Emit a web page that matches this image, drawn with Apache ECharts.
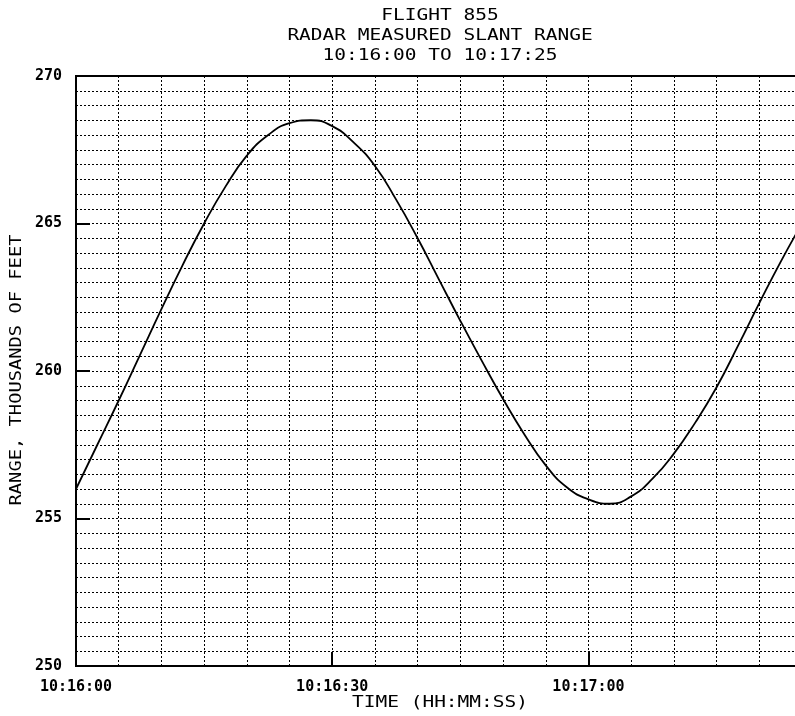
<!DOCTYPE html>
<html>
<head>
<meta charset="utf-8">
<script src="https://cdn.jsdelivr.net/npm/echarts@6/dist/echarts.min.js"></script>
<style>
html,body{margin:0;padding:0;background:#fff;}
#chart{width:795px;height:716px;}
</style>
</head>
<body>
<div id="chart"></div>
<script>
// time in seconds after 10:16:00
var times = [0,2.5,5,7.5,10,12.5,15,17.5,20,22.5,25,27.5,30,32.5,35,37.5,40,42.5,45,47.5,50,52.5,55,57.5,60,62.5,65,67.5,70,72.5,75,77.5,80,82.5,85];
// slant range, thousands of feet
var range = [256.0,257.5,259.0,260.55,262.1,263.6,265.0,266.25,267.3,268.0,268.4,268.5,268.3,267.75,266.95,265.8,264.5,263.1,261.7,260.35,259.05,257.85,256.8,256.05,255.65,255.5,255.75,256.35,257.2,258.25,259.45,260.85,262.3,263.7,265.0];
var xTickValues = [0,30,60];
var xTickLabels = ['10:16:00','10:16:30','10:17:00'];
var yTickValues = [250,255,260,265,270];
var yTickLabels = ['250','255','260','265','270'];
var titleLines = ['FLIGHT 855','RADAR MEASURED SLANT RANGE','10:16:00 TO 10:17:25'];
var xName = 'TIME (HH:MM:SS)';
var yName = 'RANGE, THOUSANDS OF FEET';

var FONT = '"DejaVu Sans Mono", monospace';
var data = times.map(function(t,i){return [t, range[i]];});
var chart = echarts.init(document.getElementById('chart'));
var dotted = {color:'#000', width:1, type:[2,2]};
chart.setOption({
  animation:false,
  backgroundColor:'#fff',
  grid:{left:76, top:76, right:-7, bottom:50, show:true, borderColor:'#000', borderWidth:2, backgroundColor:'transparent', outerBoundsMode:'none', containLabel:false},
  xAxis:[{
    type:'value', min:0, max:85, interval:5,
    axisLine:{show:false},
    axisTick:{show:false},
    splitLine:{show:true, lineStyle:dotted},
    axisLabel:{
      margin:14, color:'#000', fontFamily:FONT, fontSize:15, fontWeight:'bold',
      formatter:function(v){var k=xTickValues.indexOf(Math.round(v*1000)/1000);return k>=0?xTickLabels[k]:'';}
    }
  },{
    type:'value', min:0, max:85, interval:30, position:'bottom',
    axisLine:{show:false},
    axisTick:{show:true, inside:true, length:14, lineStyle:{color:'#000', width:2}},
    splitLine:{show:false},
    axisLabel:{show:false}
  }],
  yAxis:{
    type:'value', min:250, max:270, interval:5,
    axisLine:{show:false},
    axisTick:{show:true, inside:true, length:14, lineStyle:{color:'#000', width:2}},
    splitLine:{show:true, lineStyle:dotted},
    minorTick:{show:false, splitNumber:10},
    minorSplitLine:{show:true, lineStyle:dotted},
    axisLabel:{
      margin:14, color:'#000', fontFamily:FONT, fontSize:15, fontWeight:'bold',
      formatter:function(v){var k=yTickValues.indexOf(Math.round(v));return k>=0?yTickLabels[k]:'';}
    }
  },
  series:[{
    type:'line', xAxisIndex:0, yAxisIndex:0, data:data, smooth:true, symbol:'none',
    lineStyle:{color:'#000', width:1.8}
  }],
  graphic:[
    {type:'text', x:440, y:16, scaleX:1.3, style:{text:titleLines[0], font:'15px '+FONT, fill:'#000', textAlign:'center', textVerticalAlign:'middle'}},
    {type:'text', x:440, y:36, scaleX:1.3, style:{text:titleLines[1], font:'15px '+FONT, fill:'#000', textAlign:'center', textVerticalAlign:'middle'}},
    {type:'text', x:440, y:56, scaleX:1.3, style:{text:titleLines[2], font:'15px '+FONT, fill:'#000', textAlign:'center', textVerticalAlign:'middle'}},
    {type:'text', x:440, y:703, scaleX:1.3, style:{text:xName, font:'15px '+FONT, fill:'#000', textAlign:'center', textVerticalAlign:'middle'}},
    {type:'text', x:17, y:370, rotation:Math.PI/2, scaleX:1.25, style:{text:yName, font:'15px '+FONT, fill:'#000', textAlign:'center', textVerticalAlign:'middle'}}
  ]
});
</script>
</body>
</html>
